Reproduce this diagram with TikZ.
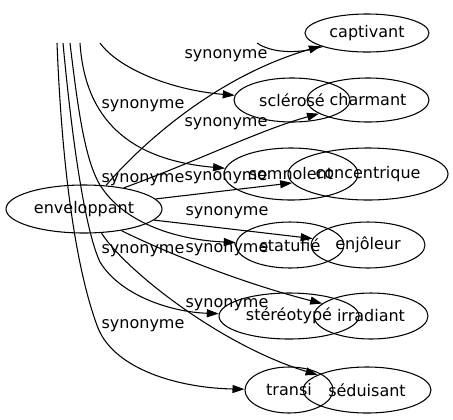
\documentclass[tikz,border=0pt]{standalone}
\usepackage{fontspec}
\setmainfont{DejaVu Sans}
\usetikzlibrary{arrows.meta,shapes.geometric}
\begin{document}
\begin{tikzpicture}[x=0.75pt,y=-0.75pt,
  nd/.style={draw,ellipse,inner sep=0pt,line width=0.8pt,font=\fontsize{12}{14}\selectfont},
  lb/.style={inner sep=0pt,font=\fontsize{12}{14}\selectfont},
  ed/.style={line width=0.8pt,-{Triangle[length=9pt,width=6pt]}},
  pl/.style={line width=0.8pt}]
\useasboundingbox (0,0) rectangle (453,419);
% nodes
\node[nd,minimum width=93pt,minimum height=28.5pt] (captivant) at (367,33) {captivant};
\node[nd,minimum width=87pt,minimum height=33pt] (sclerose) at (292,100) {sclérosé};
\node[nd,minimum width=91.5pt,minimum height=33pt] (charmant) at (368,100) {charmant};
\node[nd,minimum width=100.5pt,minimum height=39pt] (somnolent) at (291,174) {somnolent};
\node[nd,minimum width=120pt,minimum height=39pt] (concentrique) at (368,174) {concentrique};
\node[nd,minimum width=81pt,minimum height=34.5pt] (statufie) at (290,245) {statufié};
\node[nd,minimum width=85.5pt,minimum height=34.5pt] (enjoleur) at (368,245) {enjôleur};
\node[nd,minimum width=105pt,minimum height=34.5pt] (stereotype) at (289,316) {stéréotypé};
\node[nd,minimum width=85.5pt,minimum height=34.5pt] (irradiant) at (371,316) {irradiant};
\node[nd,minimum width=66pt,minimum height=34.5pt] (transi) at (289,390) {transi};
\node[nd,minimum width=96pt,minimum height=34.5pt] (seduisant) at (367,390) {séduisant};
\node[nd,minimum width=117pt,minimum height=36pt] (enveloppant) at (84,209) {enveloppant};
% free ends
\coordinate (t1) at (57,43);
\coordinate (t2) at (63,43);
\coordinate (t3) at (70,43);
\coordinate (t4) at (80,43);
\coordinate (t5) at (100,43);
\coordinate (t6) at (257,43);
% edges
\draw[ed] (enveloppant.47) .. controls (145,140) and (220,75) .. (captivant);
\draw[ed] (t5) .. controls (118,68) and (170,90) .. (sclerose);
\draw[ed] (enveloppant.28) .. controls (200,160) and (260,130) .. (charmant);
\draw[ed] (t4) .. controls (85,120) and (130,160) .. (somnolent);
\draw[ed] (enveloppant.8) -- (concentrique);
\draw[ed] (enveloppant.-9) -- (enjoleur);
\draw[ed] (t3) .. controls (78,110) and (85,160) .. (100,185) .. controls (125,225) and (180,240) .. (statufie);
\draw[ed] (enveloppant.-30) .. controls (150,245) and (230,280) .. (irradiant);
\draw[ed] (t2) .. controls (72,140) and (85,230) .. (100,262) .. controls (120,295) and (170,312) .. (stereotype);
\draw[ed] (enveloppant.-54) .. controls (125,270) and (220,345) .. (seduisant);
\draw[ed] (t1) .. controls (62,170) and (76,270) .. (98,328) .. controls (115,370) and (180,388) .. (transi);
\draw[pl] (t6) .. controls (270,52) and (295,55) .. (captivant);
% labels
\node[lb] (l1) at (226,56) {synonyme};
\node[lb] (l2) at (143,106) {synonyme};
\node[lb] (l3) at (226,124) {synonyme};
\node[lb] (l4) at (143,180) {synonyme};
\node[lb] (l5) at (226,178) {synonyme};
\node[lb] (l6) at (227,213) {synonyme};
\node[lb] (l7) at (143,251) {synonyme};
\node[lb] (l8) at (227,250) {synonyme};
\node[lb] (l9) at (227,305) {synonyme};
\node[lb] (l10) at (143,326) {synonyme};
\end{tikzpicture}
\end{document}
